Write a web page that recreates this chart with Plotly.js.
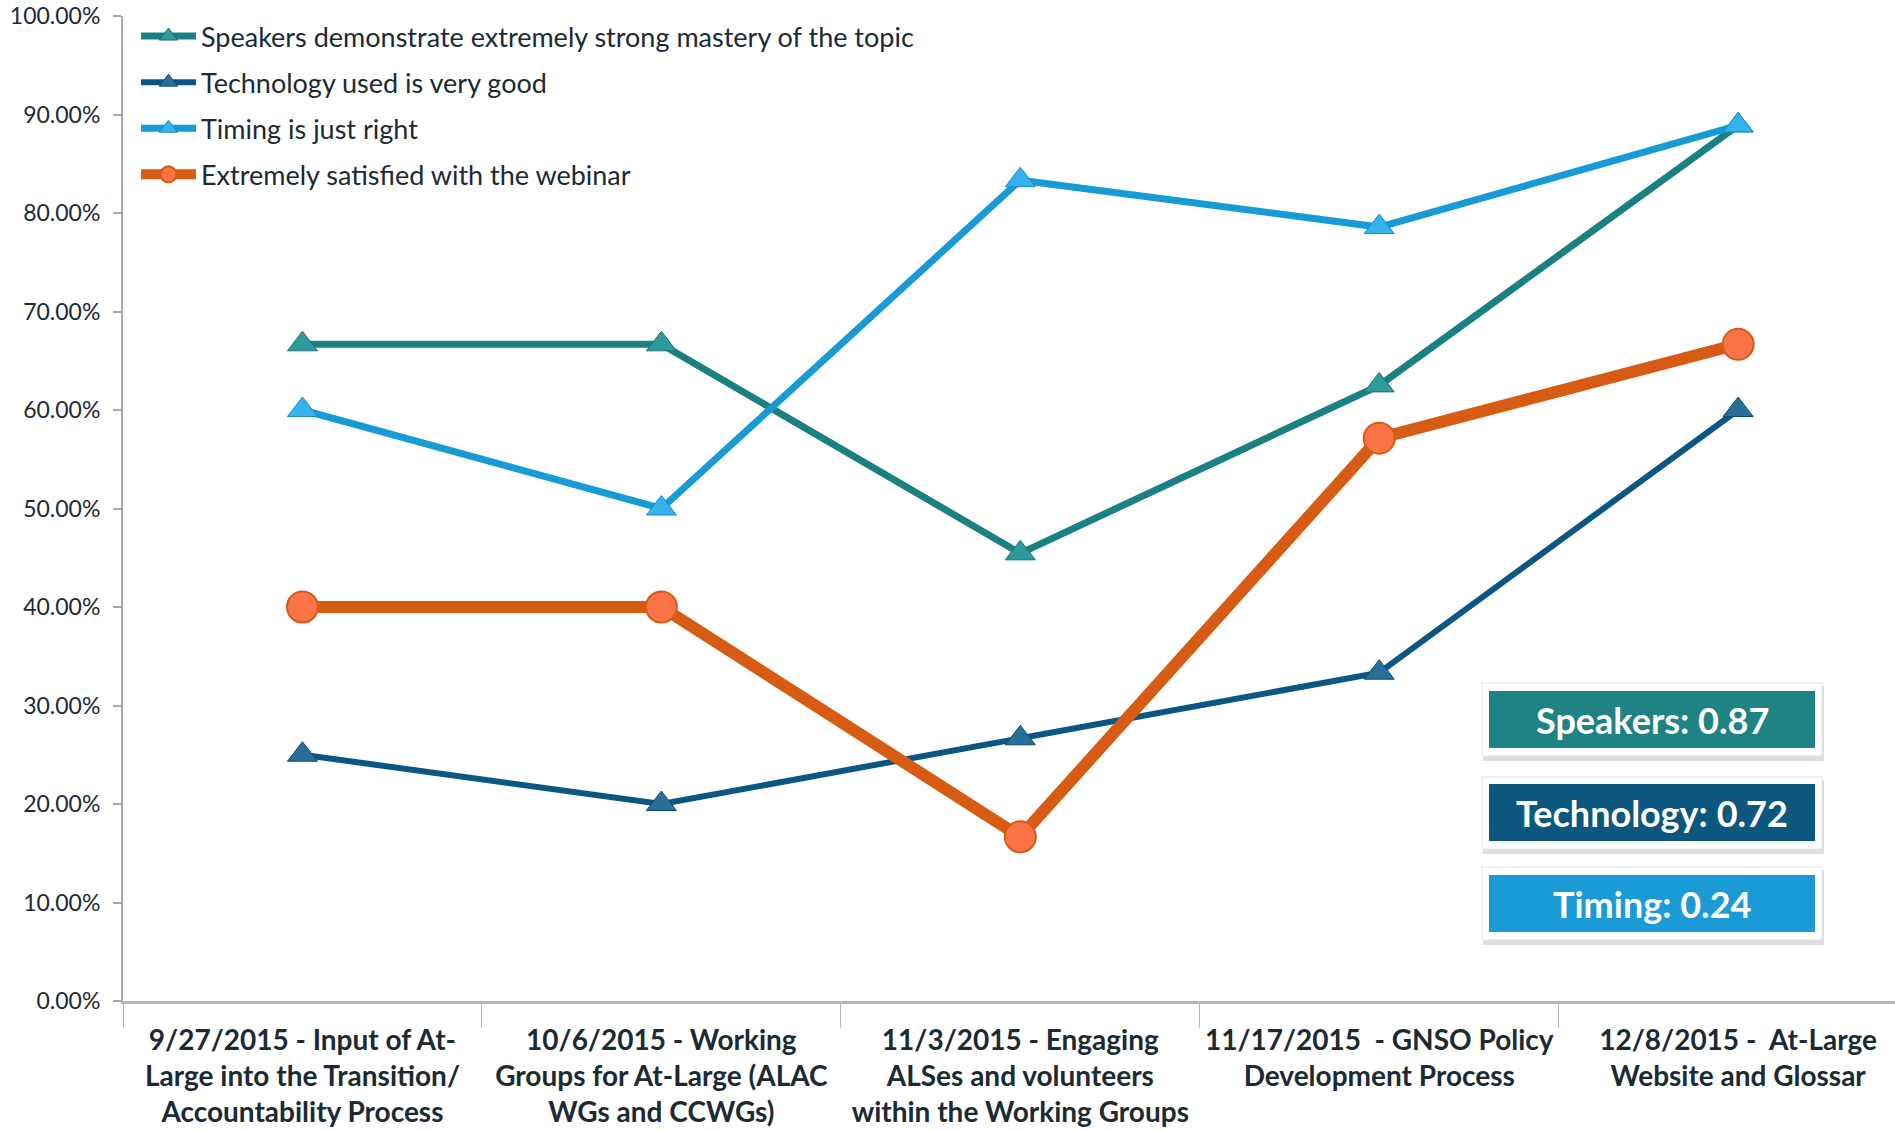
<!DOCTYPE html>
<html>
<head>
<meta charset="utf-8">
<script src="https://cdn.plot.ly/plotly-3.0.1.min.js"></script>
<style>html,body{margin:0;padding:0;background:#fff;}#chart{width:1895px;height:1131px;}</style>
</head>
<body>
<div id="chart"></div>
<script>
// ---- data ----
const categories = [
  "9/27/2015 - Input of At-<br>Large into the Transition/<br>Accountability Process",
  "10/6/2015 - Working<br>Groups for At-Large (ALAC<br>WGs and CCWGs)",
  "11/3/2015 - Engaging<br>ALSes and volunteers<br>within the Working Groups",
  "11/17/2015  - GNSO Policy<br>Development Process",
  "12/8/2015 -  At-Large<br>Website and Glossar"
];
const speakers   = [66.67, 66.67, 45.45, 62.50, 88.89];
const technology = [25.00, 20.00, 26.67, 33.33, 60.00];
const timing     = [60.00, 50.00, 83.33, 78.57, 88.89];
const satisfied  = [40.00, 40.00, 16.67, 57.14, 66.67];
const seriesNames = [
  "Speakers demonstrate extremely strong mastery of the topic",
  "Technology used is very good",
  "Timing is just right",
  "Extremely satisfied with the webinar"
];
const yTickVals   = [0, 10, 20, 30, 40, 50, 60, 70, 80, 90, 100];
const yTickLabels = ["0.00%", "10.00%", "20.00%", "30.00%", "40.00%", "50.00%",
                     "60.00%", "70.00%", "80.00%", "90.00%", "100.00%"];
const boxLabels = ["Speakers: 0.87", "Technology: 0.72", "Timing: 0.24"];

// ---- styling ----
const cTeal = "#1a8081", cDark = "#0b5683", cLight = "#169bd7", cOrange = "#d85b14";
const W = 1895, H = 1131, L = 123, R = 0, T = 16, B = 130;
const pw = W - L - R, ph = H - T - B;
const px = x => (x - L) / pw;
const py = y => (H - B - y) / ph;
const FONT = "Lato, 'Open Sans', sans-serif";

const traces = [
  {y: speakers, name: seriesNames[0], line: {color: cTeal, width: 7},
   marker: {symbol: "triangle-up", size: 26, color: "#2f9a9b", line: {color: "#1a7273", width: 1}}},
  {y: technology, name: seriesNames[1], line: {color: cDark, width: 6},
   marker: {symbol: "triangle-up", size: 26, color: "#2a6f98", line: {color: "#0a4b70", width: 1}}},
  {y: timing, name: seriesNames[2], line: {color: cLight, width: 7},
   marker: {symbol: "triangle-up", size: 26, color: "#34b3ef", line: {color: "#1a8cc4", width: 1}}},
  {y: satisfied, name: seriesNames[3], line: {color: cOrange, width: 12},
   marker: {symbol: "circle", size: 31, color: "#fb7447", line: {color: "#d85b14", width: 2}}}
].map((t, i) => Object.assign({
  type: "scatter", mode: "lines+markers", x: categories, hoverinfo: "skip",
  legendgroup: "g" + i
}, t));

const shapes = [], annotations = [];
const boxes = [
  {outer: [1482, 683, 1822, 756], inner: [1489, 691, 1815, 748], color: "#1f8283"},
  {outer: [1482, 777, 1822, 849], inner: [1489, 784, 1815, 841], color: "#0b577d"},
  {outer: [1482, 867, 1822, 940], inner: [1489, 875, 1815, 932], color: "#1a9bd5"}
];
boxes.forEach((b, i) => {
  const o = b.outer, n = b.inner;
  shapes.push({type: "rect", xref: "paper", yref: "paper", layer: "above",
    x0: px(o[0] + 1), x1: px(o[2] + 2), y0: py(o[3] + 5), y1: py(o[1] + 3),
    fillcolor: "rgba(0,0,0,0.13)", line: {width: 0}});
  shapes.push({type: "rect", xref: "paper", yref: "paper", layer: "above",
    x0: px(o[0]), x1: px(o[2]), y0: py(o[3]), y1: py(o[1]),
    fillcolor: "#ffffff", line: {color: "#e4e4e4", width: 1}});
  shapes.push({type: "rect", xref: "paper", yref: "paper", layer: "above",
    x0: px(n[0]), x1: px(n[2]), y0: py(n[3]), y1: py(n[1]),
    fillcolor: b.color, line: {width: 0}});
  annotations.push({xref: "paper", yref: "paper", x: px((n[0] + n[2]) / 2), y: py((n[1] + n[3]) / 2),
    text: "<b>" + boxLabels[i] + "</b>", showarrow: false, xanchor: "center", yanchor: "middle",
    font: {family: FONT, size: 36, color: "#ffffff"}});
});

const layout = {
  width: W, height: H,
  margin: {l: L, r: R, t: T, b: B},
  paper_bgcolor: "#ffffff", plot_bgcolor: "#ffffff",
  font: {family: FONT, color: "#1c2a33"},
  showlegend: true,
  legend: {x: px(136), y: py(12), xanchor: "left", yanchor: "top",
    font: {size: 27, color: "#1c2a33", family: FONT}, bgcolor: "rgba(0,0,0,0)",
    traceorder: "grouped", tracegroupgap: 8, itemwidth: 55},
  xaxis: {type: "category", range: [-0.5, 4.437], showgrid: false, zeroline: false,
    showline: true, linecolor: "#b5b5b5", linewidth: 3,
    ticks: "outside", tickson: "boundaries", ticklen: 24, tickcolor: "#b5b5b5", tickwidth: 1,
    ticklabelstandoff: 12,
    tickmode: "array", tickvals: categories, ticktext: categories.map(c => "<b>" + c + "</b>"),
    tickfont: {size: 28, color: "#1c2a33", family: FONT},
    tickangle: 0, fixedrange: true},
  yaxis: {range: [0, 100], tickmode: "array", tickvals: yTickVals, ticktext: yTickLabels,
    showgrid: false, zeroline: false,
    showline: true, linecolor: "#a9a9a9", linewidth: 2,
    ticks: "outside", ticklen: 8, tickcolor: "#a9a9a9", tickwidth: 2,
    ticklabelstandoff: 8,
    tickfont: {size: 23, color: "#1c2a33", family: FONT}, fixedrange: true},
  shapes: shapes,
  annotations: annotations
};

Plotly.newPlot("chart", traces, layout, {displayModeBar: false, staticPlot: true});
</script>
</body>
</html>
